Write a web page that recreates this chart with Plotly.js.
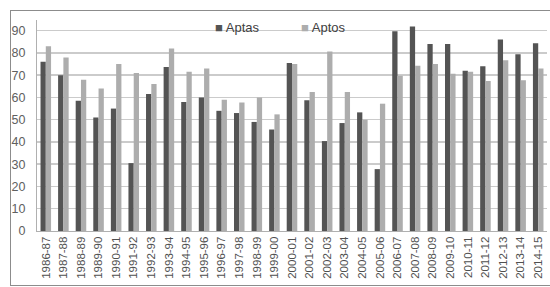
<!DOCTYPE html>
<html>
<head>
<meta charset="utf-8">
<script src="https://cdn.plot.ly/plotly-3.0.1.min.js"></script>
<style>
html,body{margin:0;padding:0;background:#fff;}
#frame{position:absolute;left:10px;top:10px;width:540px;height:276px;border:1px solid #8c8c8c;border-right:none;box-sizing:border-box;}
#chart{position:absolute;left:0;top:0;width:550px;height:287px;}
</style>
</head>
<body>
<div id="frame"></div>
<div id="chart"></div>
<script>
const categories = ["1986-87","1987-88","1988-89","1989-90","1990-91","1991-92","1992-93","1993-94","1994-95","1995-96","1996-97","1997-98","1998-99","1999-00","2000-01","2001-02","2002-03","2003-04","2004-05","2005-06","2006-07","2007-08","2008-09","2009-10","2010-11","2011-12","2012-13","2013-14","2014-15"];
const aptas = [76,70,58.5,51,55,30.5,61.5,73.7,58,60,54,53,49,45.6,75.5,58.7,40.4,48.5,53.3,27.8,89.8,91.9,84,84,72,74,86,79.4,84.4];
const aptos = [83,78,68,64,75,71,66,82,71.6,73,59,57.7,60,52.4,75,62.5,80.6,62.5,50,57.2,69.7,74.3,75,70.7,71.6,67.4,76.7,67.7,73];
const yTicks = [0,10,20,30,40,50,60,70,80,90];
const seriesNames = ["Aptas","Aptos"];
const seriesColors = ["#545454","#adadad"];

const traces = [
  {type:'bar', name:seriesNames[0], x:categories, y:aptas, marker:{color:seriesColors[0]}},
  {type:'bar', name:seriesNames[1], x:categories, y:aptos, marker:{color:seriesColors[1]}}
];
const legendX = [213, 299];
const layout = {
  width:550, height:287,
  margin:{l:37, r:3, t:20, b:56},
  paper_bgcolor:'rgba(0,0,0,0)', plot_bgcolor:'rgba(0,0,0,0)',
  barmode:'group', bargap:0.4, bargroupgap:0,
  font:{family:'Liberation Sans, Arial, sans-serif', color:'#595959'},
  showlegend:false,
  annotations: seriesNames.map((n,i)=>({
    xref:'paper', yref:'paper', x:(legendX[i]-37)/510, y:(287-56-27)/211, xanchor:'left', yanchor:'middle',
    showarrow:false, text:'<span style="color:'+seriesColors[i]+'">■</span> '+n,
    font:{size:13, color:'#404040'}
  })),
  xaxis:{type:'category', range:[-0.5,28.5], tickangle:-90, tickfont:{size:11.5, color:'#505050'},
         showline:true, linecolor:'#b0b0b0', linewidth:1, showgrid:false, ticks:'', fixedrange:true},
  yaxis:{range:[0,94.8], tickvals:yTicks, ticktext:yTicks.map(String), tickfont:{size:12.5, color:'#606060'},
         showgrid:true, gridcolor:'#cbcbcb', gridwidth:1.5, zeroline:false, ticklabelstandoff:8,
         showline:true, linecolor:'#b0b0b0', linewidth:1, ticks:'', ticklen:0, fixedrange:true}
};
Plotly.newPlot('chart', traces, layout, {staticPlot:true, displayModeBar:false});
</script>
</body>
</html>
